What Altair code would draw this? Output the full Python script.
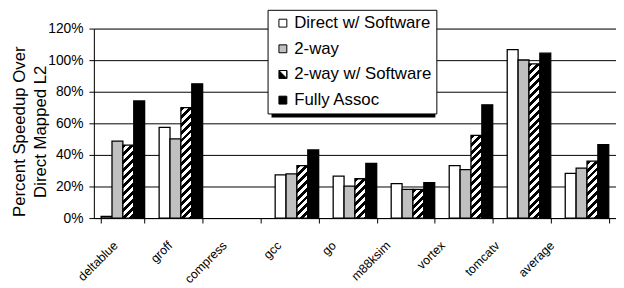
import altair as alt
import pandas as pd

categories = ["deltablue", "groff", "compress", "gcc", "go", "m88ksim", "vortex", "tomcatv", "average"]
series = ["Direct w/ Software", "2-way", "2-way w/ Software", "Fully Assoc"]
direct_sw = [1, 57.4, 0, 27.4, 26.5, 21.8, 33.2, 106.7, 28.3]
two_way = [48.7, 50.2, 0, 28.0, 20.3, 18.2, 30.7, 100.1, 31.6]
two_way_sw = [46.2, 70.0, 0, 33.2, 24.9, 18.2, 52.4, 97.6, 36.0]
fully = [74.2, 85.0, 0, 43.1, 34.6, 22.4, 71.7, 104.4, 46.5]
y_ticks = [0, 20, 40, 60, 80, 100, 120]
y_title = ["Percent Speedup Over", "Direct Mapped L2"]

FONT = "Liberation Sans"
W, H = 529, 192
Y_MAX = 120

rows = []
for s, vals in zip(series, [direct_sw, two_way, two_way_sw, fully]):
    for c, v in zip(categories, vals):
        rows.append({"category": c, "series": s, "value": v})
df = pd.DataFrame(rows)

# hatch style for the "2-way w/ Software" bars (diagonal stripes via gradient)
step = W / 9.0
bar_w = step * 0.75 / 4.0


def hatch(v, period=8.0):
    h = v / Y_MAX * H
    w = bar_w
    total = w + h
    stops = []
    pos = 0.0
    while pos < total - 1e-9:
        a = pos / total
        b = min((pos + period / 2) / total, 1.0)
        c = min((pos + period) / total, 1.0)
        stops += [
            {"offset": a, "color": "black"},
            {"offset": b, "color": "black"},
            {"offset": b, "color": "white"},
            {"offset": c, "color": "white"},
        ]
        pos += period
    beta = (w + h) / (w * w + h * h)
    return {"gradient": "linear", "x1": 0, "y1": 0, "x2": w * beta, "y2": h * beta, "stops": stops}


conds = []
for c, v in zip(categories, two_way_sw):
    if v > 0:
        conds.append({"test": f"datum.category === '{c}' && datum.series === '2-way w/ Software'",
                      "value": hatch(v)})
conds.append({"test": "datum.series === '2-way'", "value": "#c0c0c0"})
conds.append({"test": "datum.series === 'Fully Assoc'", "value": "black"})

x_enc = alt.X(
    "category:N", sort=categories,
    scale=alt.Scale(domain=categories, paddingInner=0.25, paddingOuter=0.125),
    axis=alt.Axis(title=None, labelAngle=-45, labelFontSize=12.5, labelFont=FONT, labelColor="black",
                  tickBand="extent", grid=False, domainColor="black", tickColor="black", tickSize=5,
                  labelPadding=16, labelOffset={"expr": "-12 - 28*datum.index"}, labelLimit=200),
)
xo_enc = alt.XOffset("series:N", sort=series, scale=alt.Scale(domain=series, paddingInner=0, paddingOuter=0))
y_enc = alt.Y(
    "value:Q", scale=alt.Scale(domain=[0, Y_MAX], nice=False),
    axis=alt.Axis(values=y_ticks, tickCount=20, labelExpr="datum.value + '%'", title=y_title, titleFontSize=17,
                  titleFont=FONT, titleFontWeight="normal", titleColor="black", titleLineHeight=21,
                  titleX=-75, titleY=104, titleAlign="center", titleBaseline="middle",
                  gridColor="black", gridOpacity=1, gridWidth=1, labelFontSize=14, labelFont=FONT,
                  labelColor="black", tickSize=5, labelPadding=6, domainColor="black", tickColor="black",
                  labelOverlap=False),
)

bars = alt.Chart(df).mark_bar(stroke="black", strokeWidth=1.3).encode(
    x=x_enc, xOffset=xo_enc, y=y_enc,
    fill=alt.FillValue(value="white", condition=conds),
).transform_filter("datum.value > 0")

half_path = "M-1,-1L1,-1L1,1L-1,1Z M-1,-1L1,1L1,-1Z"
leg = alt.Legend(title=None, orient="none", legendX=176, legendY=-19, fillColor="white", strokeColor="black",
                 padding=5, labelFontSize=17, labelFont=FONT, labelColor="black", symbolSize=64,
                 symbolStrokeWidth=1, rowPadding=8, labelOffset=3,
                 symbolOffset=2, labelLimit=300)

legend_layer = alt.Chart(df).mark_point(filled=True, opacity=1, strokeWidth=1).encode(
    x=alt.X("category:N", sort=categories),
    y="value:Q",
    fill=alt.Fill("series:N", scale=alt.Scale(domain=series, range=["white", "#c0c0c0", "black", "black"]),
                  legend=leg),
    stroke=alt.Stroke("series:N", scale=alt.Scale(domain=series, range=["black", "black", "black", "black"]),
                      legend=leg),
    shape=alt.Shape("series:N", scale=alt.Scale(domain=series, range=["square", "square", half_path, "square"]),
                    legend=leg),
).transform_filter("false")

shadow = alt.Chart(pd.DataFrame({"k": [0]})).mark_rect(color="black").encode(
    x=alt.value(180), x2=alt.value(346), y=alt.value(-15), y2=alt.value(90)
)

chart = alt.layer(shadow, bars, legend_layer).properties(
    width=W, height=H,
    autosize=alt.AutoSizeParams(type="none"),
    padding={"left": 87, "top": 19, "right": 0, "bottom": 69},
).configure_view(stroke=None).configure(font=FONT)

chart.save("out.html", embed_options={"renderer": "svg", "actions": False})
